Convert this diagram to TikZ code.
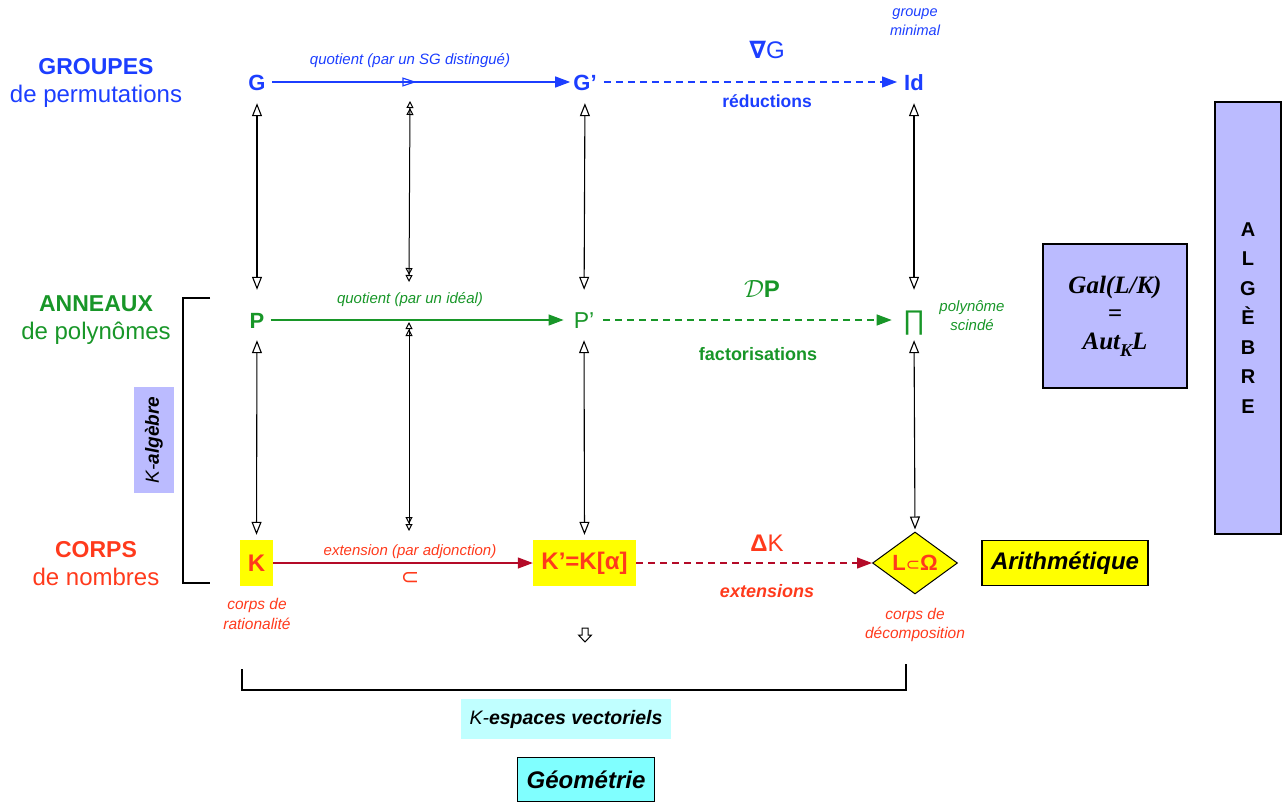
\documentclass[tikz,border=0pt]{standalone}
\usepackage{fontspec}
\setmainfont{Liberation Sans}
\newfontfamily\serifbi{Liberation Serif}
\newfontfamily\dv{DejaVu Sans}
\usetikzlibrary{arrows.meta,shapes.geometric,decorations.markings}
\definecolor{cblue}{RGB}{28,62,255}
\definecolor{cgreen}{RGB}{24,150,40}
\definecolor{cred}{RGB}{255,58,28}
\definecolor{cdred}{RGB}{180,10,40}
\definecolor{lav}{RGB}{187,187,255}
\definecolor{lcyan}{RGB}{192,255,255}
\definecolor{ccyan}{RGB}{128,255,255}
\definecolor{cyel}{RGB}{255,255,0}
\newcommand\fsz[2]{\fontsize{#1}{#2}\selectfont}
\begin{document}
\begin{tikzpicture}[x=1pt,y=-1pt,
  nd/.style={inner sep=0pt, text height=16pt, text depth=0pt, font=\bfseries\fsz{22}{26}},
  bidir/.style={line width=1.1pt, {Triangle[open,length=13pt,width=10pt]}-{Triangle[open,length=13pt,width=10pt]}},
  bidirs/.style={line width=1pt, {Triangle[open,length=7pt,width=7pt]Triangle[open,length=7pt,width=7pt]}-{Triangle[open,length=7pt,width=7pt]Triangle[open,length=7pt,width=7pt]}},
  harrow/.style={line width=1.2pt, -{Triangle[length=15pt,width=11pt]}},
  hdash/.style={harrow, dash pattern=on 7pt off 5pt},
  lab/.style={inner sep=0pt, font=\itshape\fsz{15}{19}, align=center},
  big/.style={inner sep=0pt, font=\fsz{24}{28}, align=center},
  ybox/.style={fill=cyel, inner sep=0pt, font=\bfseries\fsz{24}{26}, text=cred},
  framebox/.style={draw=black, line width=1.5pt, inner sep=0pt}
]
\useasboundingbox (0,0) rectangle (1284,803);

% left labels
\node[big, text=cblue] (lg) at (96,83) {{\bfseries\fsz{23}{28}GROUPES}\\de permutations};
\node[big, text=cgreen] (la) at (96,320) {{\bfseries\fsz{23}{28}ANNEAUX}\\de polynômes};
\node[big, text=cred] (lc) at (96,564) {{\bfseries\fsz{23}{28}CORPS}\\de nombres};

% left bracket and K-algebre
\draw[line width=2.8pt] (210,298) -- (183,298) -- (183,583) -- (210,583);
\node[fill=lav, minimum width=106pt, minimum height=40pt, inner sep=0pt, rotate=90, font=\fsz{19}{22}] (ka) at (154,440) {\itshape K-\bfseries algèbre};

% main nodes
\node[nd, text=cblue] (G) at (257,82) {G};
\node[nd, text=cblue] (G2) at (585,82) {G’};
\node[nd, text=cblue] (Id) at (914,82) {Id};
\node[nd, text=cgreen] (P) at (257,320) {P};
\node[nd, text=cgreen, font=\fsz{23}{26}] (P2) at (584,320) {P’};
\node[inner sep=0pt, text height=18pt, text depth=0pt, text=cgreen, font=\fsz{27}{30}] (Pi) at (914,320) {∏};
\node[ybox, minimum width=33pt, minimum height=46pt] (K) at (256.5,563) {K};
\node[ybox, minimum width=103pt, minimum height=46pt] (K2) at (584.5,563) {K’=K[α]};
\node[diamond, draw=black, line width=1pt, fill=cyel, aspect=1.37, minimum width=85pt, minimum height=62pt, inner sep=0pt, text=cred, font=\bfseries\fsz{22}{24}] (D) at (915,563) {L{\dv\mdseries\fsz{17}{17}⊂}Ω};

% middle column coordinates
\coordinate (m1) at (410,101);
\coordinate (m2) at (409,282);
\coordinate (m3) at (409,322);
\coordinate (m4) at (409,531);

% vertical arrows
\draw[bidir, shorten <=13pt, shorten >=22pt] (G.south) -- (P.north);
\draw[bidir, shorten <=12pt, shorten >=5pt] (P.south) -- (K.north);
\draw[bidir, shorten <=13pt, shorten >=22pt] (G2.south) -- (P2.north);
\draw[bidir, shorten <=12pt, shorten >=5pt] (P2.south) -- (K2.north);
\draw[bidir, shorten <=13pt, shorten >=21pt] (Id.south) -- (Pi.north);
\draw[bidir, shorten <=11pt, shorten >=2pt] (Pi.south) -- (D.north);
\draw[bidirs] (m1) -- (m2);
\draw[bidirs] (m3) -- (m4);

% horizontal arrows
\draw[harrow, cblue, shorten <=6pt, shorten >=3pt,
  postaction={decorate, decoration={markings, mark=at position 0.49 with {\arrow[cblue,line width=1.2pt]{Triangle[open,length=14pt,width=9pt]}}}}] (G.east) -- (G2.west);
\draw[hdash, cblue, shorten <=7pt, shorten >=7pt] (G2.east) -- (Id.west);
\draw[harrow, cgreen, shorten <=6pt, shorten >=10pt] (P.east) -- (P2.west);
\draw[hdash, cgreen, shorten <=9pt, shorten >=11pt] (P2.east) -- (Pi.west);
\draw[harrow, cdred] (K.east) -- (K2.west);
\draw[hdash, cdred] (K2.east) -- (D.west);

% edge labels
\node[lab, text=cblue] (q1) at (410,61) {quotient (par un SG distingué)};
\node[lab, text=cgreen] (q2) at (410,300) {quotient (par un idéal)};
\node[lab, text=cred] (q3) at (410,552) {extension (par adjonction)};
\node[inner sep=0pt, text=cred, font=\dv\fsz{22}{22}] (sub) at (410,578) {⊂};

\node[big, text=cblue] (nab) at (767,50) {{\dv\bfseries ∇}G};
\node[inner sep=0pt, text=cblue, font=\bfseries\fsz{17.5}{20}] (red) at (767,101) {réductions};
\node[lab, text=cblue, font=\itshape\fsz{14.5}{19}] (gm) at (915,22) {groupe\\minimal};

\node[big, text=cgreen] (dp) at (762,289) {$\mathcal{D}$\textbf{P}};
\node[inner sep=0pt, text=cgreen, font=\bfseries\fsz{18}{20}] (fac) at (758,354) {factorisations};
\node[lab, text=cgreen] (ps) at (972,316) {polynôme\\scindé};

\node[big, text=cred] (dk) at (767,543) {{\bfseries Δ}K};
\node[inner sep=0pt, text=cred, font=\bfseries\itshape\fsz{18}{20}] (ext) at (767,591) {extensions};
\node[lab, text=cred, font=\itshape\fsz{15.5}{20}] (cr) at (257,614) {corps de\\rationalité};
\node[lab, text=cred, font=\itshape\fsz{15.5}{18.5}] (cd) at (915,625) {corps de\\décomposition};

% down arrow
\draw[line width=1pt, fill=white] (582,628) -- (588,628) -- (588,635) -- (591.5,635) -- (585,642) -- (578.5,635) -- (582,635) -- cycle;

% bottom bracket
\draw[line width=2.8pt] (242,669) -- (242,690) -- (906,690) -- (906,664);
\node[fill=lcyan, minimum width=210pt, minimum height=40pt, inner sep=0pt, font=\fsz{19.5}{22}] (kev) at (566,719) {\itshape K-\bfseries espaces vectoriels};
\node[framebox, line width=1.2pt, fill=ccyan, minimum width=137pt, minimum height=44pt, font=\bfseries\itshape\fsz{24}{26}] (geo) at (586,779.5) {Géométrie};

% right boxes
\node[framebox, fill=cyel, minimum width=166pt, minimum height=45pt, font=\bfseries\itshape\fsz{24}{26}] (ari) at (1065,563) {Arithmétique};
\node[framebox, fill=lav, minimum width=144pt, minimum height=144pt, align=center, font=\serifbi\bfseries\itshape\fsz{25}{28}] (gal) at (1115,316) {Gal(L/K)\\=\\Aut\raisebox{-7pt}{\fsz{18}{18}\selectfont K}L};
\node[framebox, fill=lav, minimum width=66pt, minimum height=432pt, align=center, font=\bfseries\fsz{20}{29.5}] (alg) at (1248,318) {A\\L\\G\\È\\B\\R\\E};
\end{tikzpicture}
\end{document}
